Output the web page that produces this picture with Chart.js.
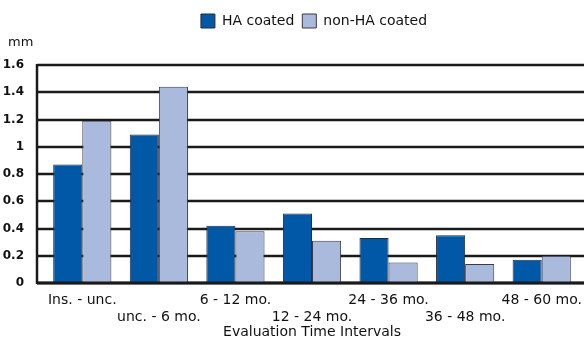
<!DOCTYPE html>
<html>
<head>
<meta charset="utf-8">
<script src="https://cdn.jsdelivr.net/npm/chart.js@4.4.0/dist/chart.umd.min.js"></script>
<style>
  html, body { margin: 0; padding: 0; background: #fff; }
  #wrap { width: 584px; height: 341px; }
</style>
</head>
<body>
<div id="wrap"><canvas id="bars" width="584" height="341"></canvas></div>
<script>
// Evaluation intervals — HA coated vs non-HA coated (mm)

const intervals = ['Ins. - unc.', 'unc. - 6 mo.', '6 - 12 mo.', '12 - 24 mo.', '24 - 36 mo.', '36 - 48 mo.', '48 - 60 mo.'];
const haCoated = [0.87, 1.09, 0.42, 0.51, 0.33, 0.35, 0.17];
const nonHaCoated = [1.19, 1.44, 0.38, 0.31, 0.15, 0.14, 0.20];
const yTicks = [0, 0.2, 0.4, 0.6, 0.8, 1, 1.2, 1.4, 1.6];

const FONT = "'DejaVu Sans', Verdana, sans-serif";

// labels alternate between two rows, like the original print
const xLabels = intervals.map((s, i) => i % 2 === 0 ? [s, ''] : ['', s]);

// push the plot down below the legend + "mm" unit, legend sits over the plot centre
const legendGap = {
	id: 'legendGap',
	beforeInit(chart) {
		const fit = chart.legend.fit;
		chart.legend.fit = function () {
			fit.bind(chart.legend)();
			this.height += 27;
		};
	},
	afterLayout(chart) {
		chart.legend.left += 24;
		chart.legend.right += 24;
	}
};

// thick black grid that runs past the plot edges
const gridLines = {
	id: 'gridLines',
	beforeDatasetsDraw(chart) {
		const ctx = chart.ctx;
		const y = chart.scales.y;
		ctx.save();
		ctx.strokeStyle = '#1a1a1a';
		ctx.lineWidth = 2.5;
		yTicks.forEach(v => {
			const py = Math.round(y.getPixelForValue(v));
			ctx.beginPath();
			ctx.moveTo(37, py);
			ctx.lineTo(584, py);
			ctx.stroke();
		});
		ctx.beginPath();
		ctx.moveTo(37, y.getPixelForValue(1.6) - 1);
		ctx.lineTo(37, y.getPixelForValue(0) + 1);
		ctx.stroke();
		ctx.restore();
	},
	afterDatasetsDraw(chart) {
		const ctx = chart.ctx;
		const y = chart.scales.y;
		ctx.save();
		ctx.strokeStyle = '#1a1a1a';
		ctx.lineWidth = 3;
		const py = Math.round(y.getPixelForValue(0));
		ctx.beginPath();
		ctx.moveTo(37, py);
		ctx.lineTo(584, py);
		ctx.stroke();
		// unit label
		ctx.fillStyle = '#111';
		ctx.font = '13px ' + FONT;
		ctx.textBaseline = 'alphabetic';
		ctx.fillText('mm', 8, 46);
		ctx.restore();
	}
};

new Chart(document.getElementById('bars'), {
	type: 'bar',
	data: {
		labels: xLabels,
		datasets: [{
			label: 'HA coated',
			data: haCoated,
			backgroundColor: '#0058a6',
			borderColor: '#2a2a3a',
			borderWidth: 1,
			categoryPercentage: 0.76,
			barPercentage: 1
		}, {
			label: 'non-HA coated',
			data: nonHaCoated,
			backgroundColor: '#aabadd',
			borderColor: '#3a3a45',
			borderWidth: 1,
			categoryPercentage: 0.76,
			barPercentage: 1
		}]
	},
	options: {
		responsive: false,
		animation: false,
		layout: { padding: { top: 6, right: 4, left: 0, bottom: 0 } },
		plugins: {
			legend: {
				position: 'top',
				labels: {
					color: '#111',
					boxWidth: 14,
					boxHeight: 14,
					padding: 8,
					font: { family: FONT, size: 14 }
				}
			},
			tooltip: { enabled: false }
		},
		scales: {
			x: {
				grid: { display: false },
				border: { display: false },
				ticks: {
					color: '#111',
					autoSkip: false,
					maxRotation: 0,
					minRotation: 0,
					padding: 1,
					font: { family: FONT, size: 14 }
				},
				title: {
					display: true,
					text: 'Evaluation Time Intervals',
					color: '#111',
					padding: { top: 2, bottom: 0 },
					font: { family: FONT, size: 14 }
				},
				afterFit(scale) { scale.height = 58; }
			},
			y: {
				min: 0,
				max: 1.6,
				grid: { display: false },
				border: { display: false },
				afterBuildTicks(scale) { scale.ticks = yTicks.map(v => ({ value: v })); },
				ticks: {
					color: '#111',
					padding: 12,
					font: { family: FONT, size: 12, weight: 'bold' },
					callback: v => String(Math.round(v * 10) / 10)
				},
				afterFit(scale) { scale.width = 44; }
			}
		}
	},
	plugins: [legendGap, gridLines]
});
</script>
</body>
</html>
